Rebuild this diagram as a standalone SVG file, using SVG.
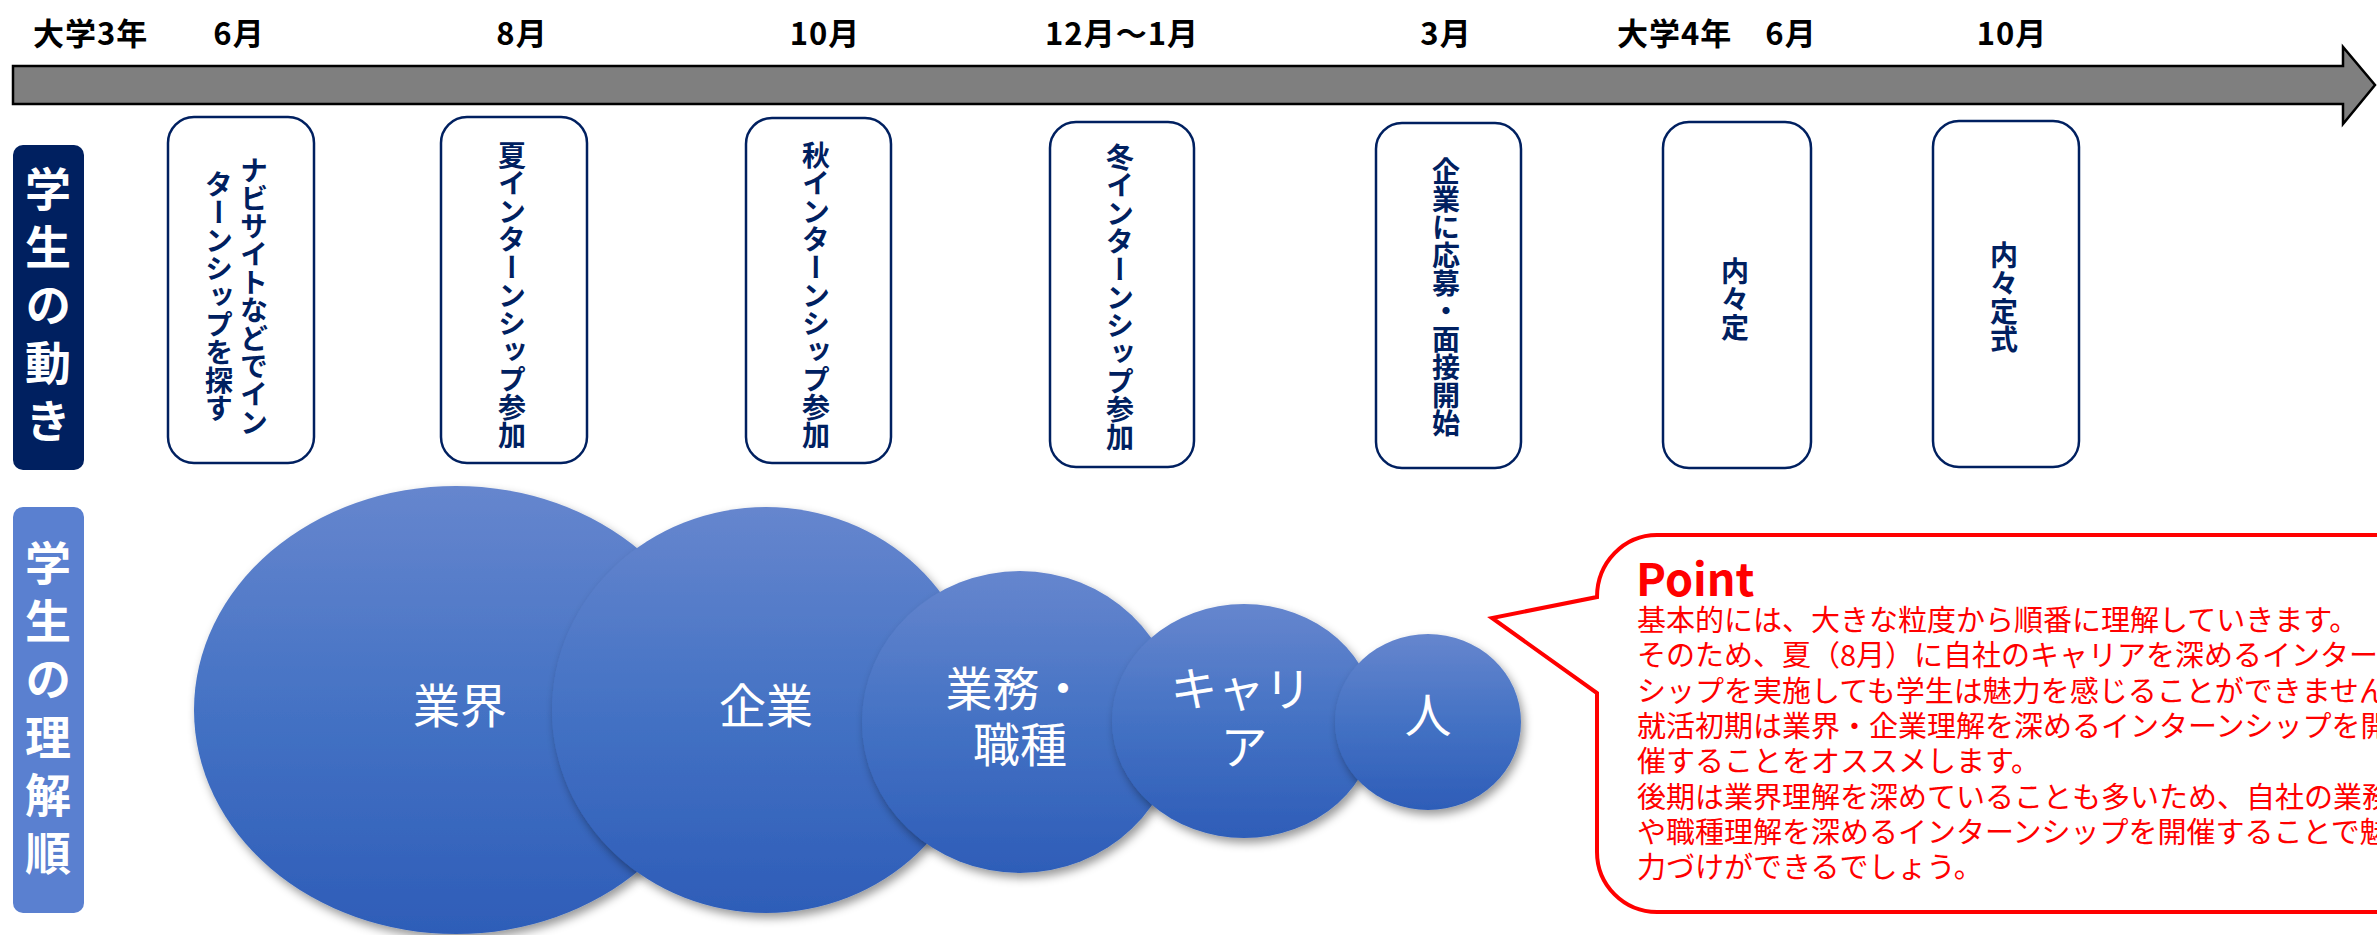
<svg xmlns="http://www.w3.org/2000/svg" width="2377" height="935" viewBox="0 0 2377 935">
<defs>
<linearGradient id="blueGrad" x1="0" y1="0" x2="0" y2="1">
<stop offset="0" stop-color="#6686CE"/>
<stop offset="0.5" stop-color="#4472C4"/>
<stop offset="1" stop-color="#2E5DB8"/>
</linearGradient>
<filter id="shadow" x="-15%" y="-15%" width="135%" height="140%">
<feDropShadow dx="3" dy="5" stdDeviation="5" flood-color="#000" flood-opacity="0.4"/>
</filter>
</defs>
<style>
.lbl{font-family:"Noto Sans CJK JP","Noto Sans",sans-serif;font-weight:700;font-size:31px;fill:#000;letter-spacing:1px}
.mid{text-anchor:middle}
.side{font-family:"Noto Sans CJK JP","Noto Sans",sans-serif;font-weight:700;font-size:46px;fill:#fff;writing-mode:vertical-rl;letter-spacing:12px}
.evbox{fill:#fff;stroke:#002060;stroke-width:2.5}
.evtxt{font-family:"Noto Sans CJK JP","Noto Sans",sans-serif;font-weight:700;font-size:28px;fill:#002060;writing-mode:vertical-rl;text-anchor:middle}
.bubble{fill:url(#blueGrad);filter:url(#shadow)}
.btxt{font-family:"Noto Sans CJK JP","Noto Sans",sans-serif;font-size:47px;fill:#fff;text-anchor:middle}
.callout{fill:#fff;stroke:#f00;stroke-width:4}
.ptitle{font-family:"Noto Sans CJK JP","Noto Sans",sans-serif;font-weight:700;font-size:45px;fill:#f00}
.pbody{font-family:"Noto Sans CJK JP","Noto Sans",sans-serif;font-size:29px;fill:#f00}
</style>

<g id="timeline">
<polygon points="13,66 2343,66 2343,47 2375,85 2343,124 2343,104 13,104" fill="#7F7F7F" stroke="#000" stroke-width="2.5"/>
</g>

<g id="timeline-labels">
<text class="lbl" x="33" y="45">大学3年</text>
<text class="lbl mid" x="239" y="45">6月</text>
<text class="lbl mid" x="522" y="45">8月</text>
<text class="lbl mid" x="825" y="45">10月</text>
<text class="lbl mid" x="1122" y="45">12月～1月</text>
<text class="lbl mid" x="1446" y="45">3月</text>
<text class="lbl" x="1617" y="45">大学4年</text>
<text class="lbl mid" x="1791" y="45">6月</text>
<text class="lbl mid" x="2012" y="45">10月</text>
</g>

<g id="label-movement">
<rect x="13" y="145" width="71" height="325" rx="10" fill="#002060"/>
<text class="side" x="48" y="166">学生の動き</text>
</g>

<g id="label-understanding">
<rect x="13" y="507" width="71" height="406" rx="10" fill="#5A80D0"/>
<text class="side" x="48" y="540">学生の理解順</text>
</g>

<g id="event-navi">
<rect class="evbox" x="168" y="117" width="146" height="346" rx="26"/>
<text class="evtxt" x="254" y="296">ナビサイトなどでイン</text>
<text class="evtxt" x="219" y="296">ターンシップを探す</text>
</g>
<g id="event-summer">
<rect class="evbox" x="441" y="117" width="146" height="346" rx="26"/>
<text class="evtxt" x="512" y="295">夏インターンシップ参加</text>
</g>
<g id="event-autumn">
<rect class="evbox" x="746" y="118" width="145" height="345" rx="26"/>
<text class="evtxt" x="816" y="295">秋インターンシップ参加</text>
</g>
<g id="event-winter">
<rect class="evbox" x="1050" y="122" width="144" height="345" rx="26"/>
<text class="evtxt" x="1120" y="297">冬インターンシップ参加</text>
</g>
<g id="event-apply">
<rect class="evbox" x="1376" y="123" width="145" height="345" rx="26"/>
<text class="evtxt" x="1446" y="297">企業に応募・面接開始</text>
</g>
<g id="event-naitei">
<rect class="evbox" x="1663" y="122" width="148" height="346" rx="26"/>
<text class="evtxt" x="1735" y="299">内々定</text>
</g>
<g id="event-naiteishiki">
<rect class="evbox" x="1933" y="121" width="146" height="346" rx="26"/>
<text class="evtxt" x="2004" y="297">内々定式</text>
</g>

<g id="circle-industry">
<ellipse class="bubble" cx="456" cy="710" rx="262" ry="224"/>
<text class="btxt" x="460" y="723">業界</text>
</g>
<g id="circle-company">
<ellipse class="bubble" cx="766" cy="710" rx="214" ry="203"/>
<text class="btxt" x="766" y="723">企業</text>
</g>
<g id="circle-job">
<ellipse class="bubble" cx="1020" cy="722" rx="158" ry="151"/>
<text class="btxt" x="1016" y="706">業務・</text>
<text class="btxt" x="1020" y="762">職種</text>
</g>
<g id="circle-career">
<ellipse class="bubble" cx="1244" cy="721" rx="132" ry="117"/>
<text class="btxt" x="1241" y="706">キャリ</text>
<text class="btxt" x="1244" y="764">ア</text>
</g>
<g id="circle-people">
<ellipse class="bubble" cx="1428" cy="722" rx="93" ry="88"/>
<text class="btxt" x="1428" y="732">人</text>
</g>

<g id="point-callout">
<path class="callout" d="M1657,535 L2440,535 L2440,912 L1657,912 A60,60 0 0 1 1597,852 L1597,693 L1492,618 L1597,597 A60,62 0 0 1 1657,535 Z"/>
<text class="ptitle" x="1636" y="596">Point</text>
<text class="pbody" x="1637" y="631">基本的には、大きな粒度から順番に理解していきます。</text>
<text class="pbody" x="1637" y="666">そのため、夏（8月）に自社のキャリアを深めるインターン</text>
<text class="pbody" x="1637" y="702">シップを実施しても学生は魅力を感じることができません。</text>
<text class="pbody" x="1637" y="737">就活初期は業界・企業理解を深めるインターンシップを開</text>
<text class="pbody" x="1637" y="772">催することをオススメします。</text>
<text class="pbody" x="1637" y="808">後期は業界理解を深めていることも多いため、自社の業務</text>
<text class="pbody" x="1637" y="843">や職種理解を深めるインターンシップを開催することで魅</text>
<text class="pbody" x="1637" y="878">力づけができるでしょう。</text>
</g>
</svg>
